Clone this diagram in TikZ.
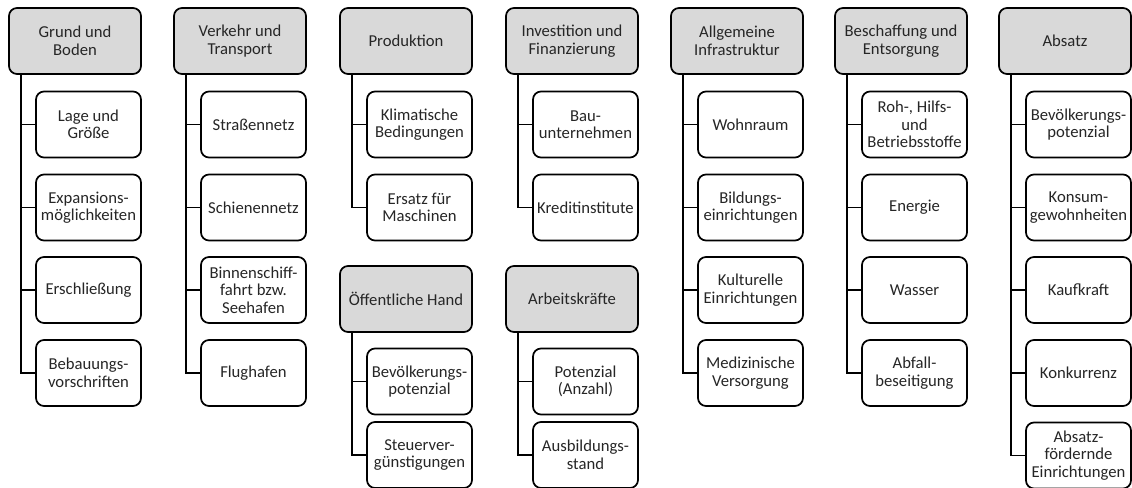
\documentclass[tikz,border=0pt]{standalone}
\usepackage{fontspec}
\setmainfont{Carlito}
\begin{document}
\begin{tikzpicture}[x=0.75pt,y=-0.75pt,
  box/.style={draw=black,line width=1.3pt,rounded corners=6pt,align=center,
    inner sep=0pt,text=black!85,font=\fontsize{12.5}{13.1}\selectfont},
  head/.style={box,fill=black!15,minimum width=99pt,minimum height=49.5pt},
  item/.style={box,fill=white,minimum width=78.75pt,minimum height=49.5pt},
  link/.style={draw=black,line width=1.3pt}]
\useasboundingbox (0,0) rectangle (1132,488);

% Grund und Boden
\node[head] (h1) at (75,41) {Grund und\\Boden};
\node[item] (a1) at (88.5,124.5) {Lage und\\Größe};
\node[item] (a2) at (88.5,207.5) {Expansions-\\möglichkeiten};
\node[item] (a3) at (88.5,290) {Erschließung};
\node[item] (a4) at (88.5,373) {Bebauungs-\\vorschriften};

% Verkehr und Transport
\node[head] (h2) at (240,41) {Verkehr und\\Transport};
\node[item] (b1) at (253.5,124.5) {Straßennetz};
\node[item] (b2) at (253.5,207.5) {Schienennetz};
\node[item] (b3) at (253.5,290) {Binnenschiff-\\fahrt bzw.\\Seehafen};
\node[item] (b4) at (253.5,373) {Flughafen};

% Produktion / Oeffentliche Hand
\node[head] (h3) at (406,41) {Produktion};
\node[item] (c1) at (419.5,124.5) {Klimatische\\Bedingungen};
\node[item] (c2) at (419.5,207.5) {Ersatz für\\Maschinen};
\node[head] (h3b) at (406,299) {Öffentliche Hand};
\node[item] (d1) at (419.5,381.5) {Bevölkerungs-\\potenzial};
\node[item] (d2) at (419.5,455) {Steuerver-\\günstigungen};

% Investition und Finanzierung / Arbeitskraefte
\node[head] (h4) at (572,41) {Investition und\\Finanzierung};
\node[item] (e1) at (585.5,124.5) {Bau-\\unternehmen};
\node[item] (e2) at (585.5,207.5) {Kreditinstitute};
\node[head] (h4b) at (572,299) {Arbeitskräfte};
\node[item] (f1) at (585.5,381.5) {Potenzial\\(Anzahl)};
\node[item] (f2) at (585.5,455) {Ausbildungs-\\stand};

% Allgemeine Infrastruktur
\node[head] (h5) at (737,41) {Allgemeine\\Infrastruktur};
\node[item] (g1) at (750.5,124.5) {Wohnraum};
\node[item] (g2) at (750.5,207.5) {Bildungs-\\einrichtungen};
\node[item] (g3) at (750.5,290) {Kulturelle\\Einrichtungen};
\node[item] (g4) at (750.5,373) {Medizinische\\Versorgung};

% Beschaffung und Entsorgung
\node[head] (h6) at (901,41) {Beschaffung und\\Entsorgung};
\node[item] (k1) at (914.5,124.5) {Roh-, Hilfs-\\und\\Betriebsstoffe};
\node[item] (k2) at (914.5,207.5) {Energie};
\node[item] (k3) at (914.5,290) {Wasser};
\node[item] (k4) at (914.5,373) {Abfall-\\beseitigung};

% Absatz
\node[head] (h7) at (1065,41) {Absatz};
\node[item] (m1) at (1078.5,124.5) {Bevölkerungs-\\potenzial};
\node[item] (m2) at (1078.5,207.5) {Konsum-\\gewohnheiten};
\node[item] (m3) at (1078.5,290) {Kaufkraft};
\node[item] (m4) at (1078.5,373) {Konkurrenz};
\node[item] (m5) at (1078.5,455.5) {Absatz-\\fördernde\\Einrichtungen};

% connectors: trunk below each header, branch into each item
\foreach \h/\list in {h1/{a1,a2,a3,a4}, h2/{b1,b2,b3,b4}, h3/{c1,c2},
    h3b/{d1,d2}, h4/{e1,e2}, h4b/{f1,f2}, h5/{g1,g2,g3,g4},
    h6/{k1,k2,k3,k4}, h7/{m1,m2,m3,m4,m5}}
  \foreach \c in \list
    \draw[link] ([xshift=9.75pt]\h.south west) |- (\c.west);
\end{tikzpicture}
\end{document}
